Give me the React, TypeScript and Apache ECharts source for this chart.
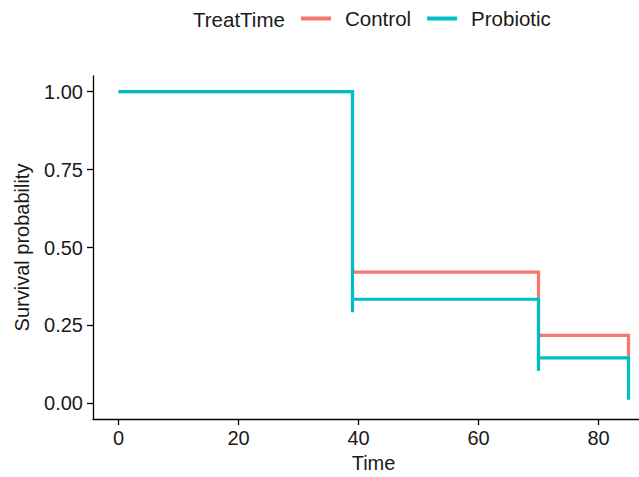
import React, { useEffect, useRef } from "react";
import * as echarts from "echarts";

// Kaplan–Meier step data (times of events and survival after each event)
const eventTimes = [0, 39, 70, 85];
const controlSurv = [1, 0.421, 0.218, 0.146];
const probioticSurv = [1, 0.334, 0.146, 0.012];
// censor marks (Probiotic)
const censorTimes = [39, 70];
const censorSurv = [0.334, 0.146];

const xTicks = [0, 20, 40, 60, 80];
const yTicks = [0, 0.25, 0.5, 0.75, 1];
const groupNames = ["Control", "Probiotic"];
const legendTitle = "TreatTime";

const FONT = "'Liberation Sans', Arial, Helvetica, sans-serif";
const TXT = "#1a1a1a";

function stepPoints(times: number[], surv: number[]): number[][] {
  const pts: number[][] = [[times[0], surv[0]]];
  for (let i = 1; i < times.length; i++) {
    pts.push([times[i], surv[i - 1]]);
    pts.push([times[i], surv[i]]);
  }
  return pts;
}

export default function App() {
  const ref = useRef<HTMLDivElement>(null);
  useEffect(() => {
    if (!ref.current) return;
    const chart = echarts.init(ref.current, undefined, { renderer: "svg" });
    chart.setOption({
      animation: false,
      backgroundColor: "#ffffff",
      graphic: [
        {
          type: "text",
          left: 193,
          top: 9,
          style: { text: legendTitle, fontSize: 20.5, fontFamily: FONT, fill: TXT },
        },
      ],
      legend: {
        data: groupNames,
        left: 301,
        top: 8,
        padding: 0,
        itemWidth: 30,
        itemHeight: 4,
        itemGap: 16,
        icon: "rect",
        textStyle: { fontSize: 20.5, fontFamily: FONT, color: TXT, padding: [0, 0, 0, 9] },
      },
      grid: { left: 93, top: 76, width: 561, height: 343, outerBoundsMode: "none", containLabel: false },
      xAxis: {
        type: "value",
        min: -4.25,
        max: 89.25,
        name: "Time",
        nameLocation: "middle",
        nameGap: 34,
        nameTextStyle: { fontSize: 20, fontFamily: FONT, color: TXT },
        axisLine: { show: true, onZero: false, lineStyle: { color: "#000", width: 1.3 } },
        axisTick: { show: true, length: 6, customValues: xTicks, lineStyle: { color: "#000", width: 1.3 } },
        axisLabel: { customValues: xTicks, fontSize: 20, fontFamily: FONT, color: TXT, margin: 9 },
        splitLine: { show: false },
      },
      yAxis: {
        type: "value",
        min: -0.05,
        max: 1.05,
        name: "Survival probability",
        nameLocation: "middle",
        nameGap: 61,
        nameTextStyle: { fontSize: 20, fontFamily: FONT, color: TXT },
        axisLine: { show: true, onZero: false, lineStyle: { color: "#000", width: 1.3 } },
        axisTick: { show: true, length: 6, customValues: yTicks, lineStyle: { color: "#000", width: 1.3 } },
        axisLabel: {
          customValues: yTicks,
          fontSize: 20,
          fontFamily: FONT,
          color: TXT,
          margin: 10,
          formatter: (v: number) => v.toFixed(2),
        },
        splitLine: { show: false },
      },
      series: [
        {
          name: groupNames[0],
          type: "line",
          data: stepPoints(eventTimes, controlSurv),
          symbol: "none",
          color: "#F8766D",
          lineStyle: { width: 3.2, color: "#F8766D", cap: "butt", join: "miter" },
        },
        {
          name: groupNames[1],
          type: "line",
          data: stepPoints(eventTimes, probioticSurv),
          symbol: "none",
          color: "#00BFC4",
          lineStyle: { width: 3.2, color: "#00BFC4", cap: "butt", join: "miter" },
        },
        {
          name: "Probiotic censor",
          type: "scatter",
          data: censorTimes.map((t, i) => [t, censorSurv[i]]),
          symbol: "rect",
          symbolSize: [3.2, 26],
          itemStyle: { color: "#00BFC4", opacity: 1 },
          z: 3,
        },
      ],
    });
    return () => chart.dispose();
  }, []);
  return (
    <div
      ref={ref}
      style={{ position: "fixed", left: 0, top: 0, width: 639, height: 477, background: "#fff" }}
    />
  );
}
